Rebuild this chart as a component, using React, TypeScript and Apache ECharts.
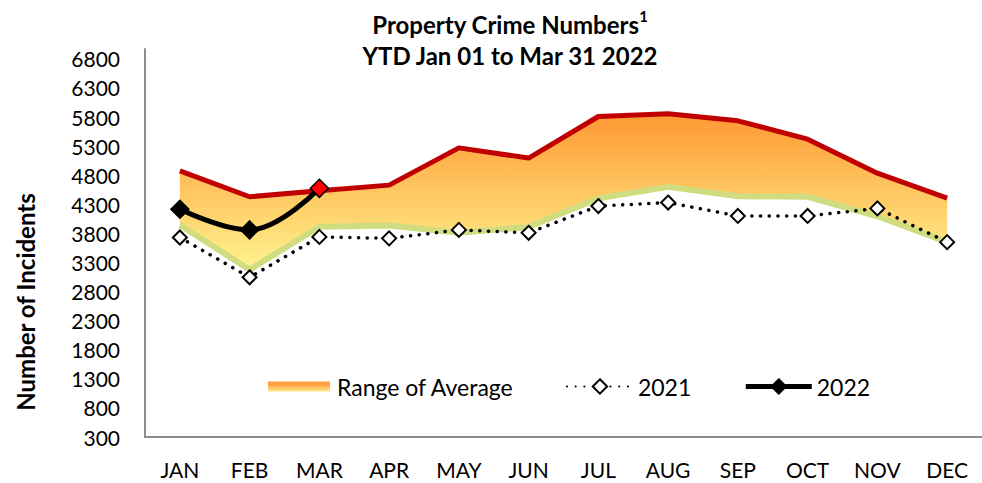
import React, { useEffect, useRef } from "react";
import * as echarts from "echarts";

const months = ["JAN", "FEB", "MAR", "APR", "MAY", "JUN", "JUL", "AUG", "SEP", "OCT", "NOV", "DEC"];
const rangeMax = [4875, 4430, 4535, 4630, 5270, 5095, 5810, 5855, 5735, 5420, 4835, 4405];
const rangeMin = [3945, 3175, 3915, 3935, 3810, 3910, 4405, 4600, 4440, 4430, 4095, 3655];
const data2021 = [3730, 3045, 3740, 3715, 3860, 3810, 4270, 4330, 4100, 4100, 4230, 3650];
const data2022 = [4215, 3860, 4575];
const titleMain = "Property Crime Numbers";
const titleSup = "1";
const titleSub = "YTD Jan 01 to Mar 31 2022";
const yAxisTitle = "Number of Incidents";
const yMin = 300;
const yMax = 6970;
const yStep = 500;

export default function App() {
  const ref = useRef<HTMLDivElement>(null);
  useEffect(() => {
    document.body.style.margin = "0";
    const chart = echarts.init(ref.current!, null, { renderer: "svg" });
    const font = "Lato";
    const grad = new echarts.graphic.LinearGradient(0, 0, 0, 1, [
      { offset: 0, color: "#FF9933" },
      { offset: 1, color: "#FFF48F" },
    ]);
    const legendGrad = new echarts.graphic.LinearGradient(0, 0, 0, 1, [
      { offset: 0.22, color: "#FFA040" },
      { offset: 0.78, color: "#FFF48F" },
    ]);
    const rangeDiff = rangeMax.map((v, i) => v - rangeMin[i]);
    chart.setOption({
      animation: false,
      textStyle: { fontFamily: font },
      grid: { left: 145, top: 49, height: 388, width: 849, containLabel: false },
      xAxis: {
        type: "category",
        data: months,
        boundaryGap: true,
        axisLine: { lineStyle: { color: "#8C8C8C", width: 2 } },
        axisTick: { show: false },
        axisLabel: { color: "#000", fontSize: 21, margin: 22, fontFamily: font },
      },
      yAxis: {
        type: "value",
        min: yMin,
        max: yMax,
        interval: yStep,
        axisLine: { show: true, lineStyle: { color: "#8C8C8C", width: 2 } },
        splitLine: { show: false },
        axisTick: { show: false },
        axisLabel: {
          color: "#000",
          fontSize: 21,
          margin: 25,
          fontFamily: font,
          formatter: (v: number) => ((v - yMin) % yStep === 0 ? String(v) : ""),
        },
      },
      legend: {
        left: 263,
        top: 370,
        itemWidth: 66,
        itemHeight: 18,
        itemGap: 52,
        selectedMode: false,
        textStyle: { fontSize: 23, color: "#000", fontFamily: font },
        data: [
          {
            name: "Range of Average",
            icon: "path://M0,0M0,4L62,4L62,14L0,14ZM62,18",
            itemStyle: { color: legendGrad },
          },
          { name: "2021" },
          { name: "2022", lineStyle: { width: 5, color: "#000" } },
        ],
      },
      graphic: [
        {
          type: "text",
          x: 510,
          y: 22,
          style: {
            text: `{a|${titleMain}}{s|${titleSup}}`,
            textAlign: "center",
            textVerticalAlign: "middle",
            rich: {
              a: { font: `bold 24px ${font}`, fill: "#000", verticalAlign: "bottom", lineHeight: 28 },
              s: { font: `bold 15px ${font}`, fill: "#000", verticalAlign: "top", lineHeight: 28 },
            },
          },
        },
        {
          type: "text",
          x: 510,
          y: 55,
          style: { text: titleSub, font: `bold 24px ${font}`, fill: "#000", textAlign: "center", textVerticalAlign: "middle" },
        },
        {
          type: "text",
          x: 25,
          y: 302,
          rotation: Math.PI / 2,
          style: { text: yAxisTitle, font: `bold 24px ${font}`, fill: "#000", textAlign: "center", textVerticalAlign: "middle" },
        },
      ],
      series: [
        {
          name: "min",
          type: "line",
          stack: "r",
          data: rangeMin,
          symbol: "none",
          lineStyle: { color: "#D0DC80", width: 6 },
          z: 3,
          silent: true,
        },
        {
          name: "Range of Average",
          type: "line",
          stack: "r",
          data: rangeDiff,
          symbol: "none",
          lineStyle: { color: "#C00000", width: 5 },
          areaStyle: { color: grad, opacity: 1 },
          z: 2,
        },
        {
          name: "2021",
          type: "line",
          data: data2021,
          symbol: "diamond",
          symbolSize: 14,
          itemStyle: { color: "#fff", borderColor: "#000", borderWidth: 2 },
          lineStyle: { color: "#000", width: 3.5, type: [0.1, 8.6], cap: "round" },
          z: 4,
        },
        {
          name: "2022",
          type: "line",
          data: data2022.map((v, i) => (i === 2 ? { value: v, itemStyle: { color: "#FF0000" } } : v)),
          smooth: 0.4,
          symbol: "diamond",
          symbolSize: 18,
          itemStyle: { color: "#000", borderColor: "#000", borderWidth: 1.5 },
          lineStyle: { color: "#000", width: 5 },
          z: 5,
        },
      ],
    });
    return () => chart.dispose();
  }, []);
  return <div ref={ref} style={{ width: 982, height: 483 }} />;
}
